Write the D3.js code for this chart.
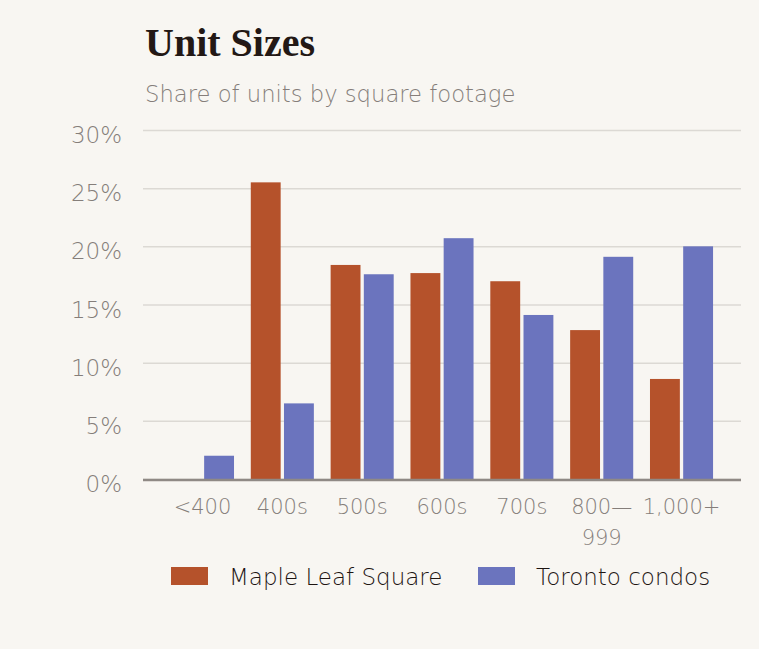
<!DOCTYPE html>
<html>
<head>
<meta charset="utf-8">
<script src="https://cdn.jsdelivr.net/npm/d3@7"></script>
<style>
  body { margin: 0; background: #f8f6f2; }
  svg { display: block; }
</style>
</head>
<body>
<div id="chart"></div>
<script>
// Data
const categories = ["<400", "400s", "500s", "600s", "700s", "800\u2014999", "1,000+"];
const seriesNames = ["Maple Leaf Square", "Toronto condos"];
const mapleLeaf = [0, 25.5, 18.4, 17.7, 17.0, 12.8, 8.6];
const torontoCondos = [2.0, 6.5, 17.6, 20.7, 14.1, 19.1, 20.0];
const yTicks = [0, 5, 10, 15, 20, 25, 30];
const colors = ["#b5522b", "#6b74be"];

const width = 759, height = 649;
const margin = { top: 130, right: 18, bottom: 169, left: 143 };
const sans = "DejaVu Sans, sans-serif";
const grey = "#857e7a";

const svg = d3.select("#chart").append("svg")
  .attr("width", width)
  .attr("height", height);

svg.append("rect").attr("width", width).attr("height", height).attr("fill", "#f8f6f2");

// Title and subtitle
svg.append("text")
  .attr("x", 145).attr("y", 56)
  .attr("font-family", "Liberation Serif, serif")
  .attr("font-weight", "bold")
  .attr("font-size", 40)
  .attr("fill", "#231815")
  .text("Unit Sizes");

svg.append("text")
  .attr("x", 145).attr("y", 102)
  .attr("font-family", sans)
  .attr("font-weight", 300)
  .attr("font-size", 22.7)
  .attr("fill", grey)
  .text("Share of units by square footage");

const x0 = d3.scaleBand()
  .domain(categories)
  .range([margin.left, width - margin.right])
  .paddingInner(0.21)
  .paddingOuter(0.35);

const x1 = d3.scaleBand()
  .domain(seriesNames)
  .range([0, x0.bandwidth()])
  .paddingInner(0.1);

const y = d3.scaleLinear()
  .domain([0, 30])
  .range([height - margin.bottom - 1, margin.top]);

// Gridlines + y labels
const yAxis = svg.append("g")
  .attr("transform", `translate(${margin.left},0)`)
  .call(d3.axisLeft(y).tickValues(yTicks).tickFormat(d => d + "%")
    .tickSize(-(width - margin.left - margin.right)).tickPadding(21));
yAxis.select(".domain").remove();
yAxis.selectAll(".tick line").attr("stroke", "#dcd9d4").attr("stroke-width", 1.5);
yAxis.selectAll(".tick text")
  .attr("font-family", sans)
  .attr("font-weight", 300)
  .attr("font-size", 23)
  .attr("fill", grey)
  .attr("dy", "0.55em")
  .attr("y", 0);

// Bars
const rows = categories.map((c, i) => ({ cat: c, values: [mapleLeaf[i], torontoCondos[i]] }));

svg.append("g").selectAll("g")
  .data(rows)
  .join("g")
  .attr("transform", d => `translate(${x0(d.cat)},0)`)
  .selectAll("rect")
  .data(d => d.values.map((v, i) => ({ name: seriesNames[i], v })))
  .join("rect")
  .attr("x", d => x1(d.name))
  .attr("width", x1.bandwidth())
  .attr("y", d => y(d.v))
  .attr("height", d => y(0) - y(d.v))
  .attr("fill", (d, i) => colors[i]);

// Baseline
svg.append("line")
  .attr("x1", margin.left).attr("x2", width - margin.right)
  .attr("y1", y(0) + 1).attr("y2", y(0) + 1)
  .attr("stroke", "#8f8985").attr("stroke-width", 2.5);

// X labels (wrap on the dash)
const xAxis = svg.append("g")
  .attr("transform", `translate(0,${y(0)})`)
  .call(d3.axisBottom(x0).tickSize(0).tickPadding(0));
xAxis.select(".domain").remove();
xAxis.selectAll(".tick text")
  .attr("font-family", sans)
  .attr("font-weight", 300)
  .attr("font-size", 21)
  .attr("fill", grey)
  .attr("y", 0)
  .attr("dy", null)
  .each(function (d) {
    const t = d3.select(this);
    const parts = d.includes("\u2014") ? [d.slice(0, d.indexOf("\u2014") + 1), d.slice(d.indexOf("\u2014") + 1)] : [d];
    t.text(null);
    parts.forEach((p, i) => {
      t.append("tspan").attr("x", 0).attr("y", 35 + i * 31).text(p);
    });
  });

// Legend
const legend = svg.append("g").attr("transform", "translate(171,567)");
const legendX = [0, 307];
seriesNames.forEach((name, i) => {
  const g = legend.append("g").attr("transform", `translate(${legendX[i]},0)`);
  g.append("rect").attr("width", 37).attr("height", 18).attr("fill", colors[i]);
  g.append("text")
    .attr("x", 58).attr("y", 18)
    .attr("font-family", sans)
    .attr("font-weight", 300)
    .attr("font-size", 23)
    .attr("fill", "#1e1512")
    .text(name);
});
</script>
</body>
</html>
